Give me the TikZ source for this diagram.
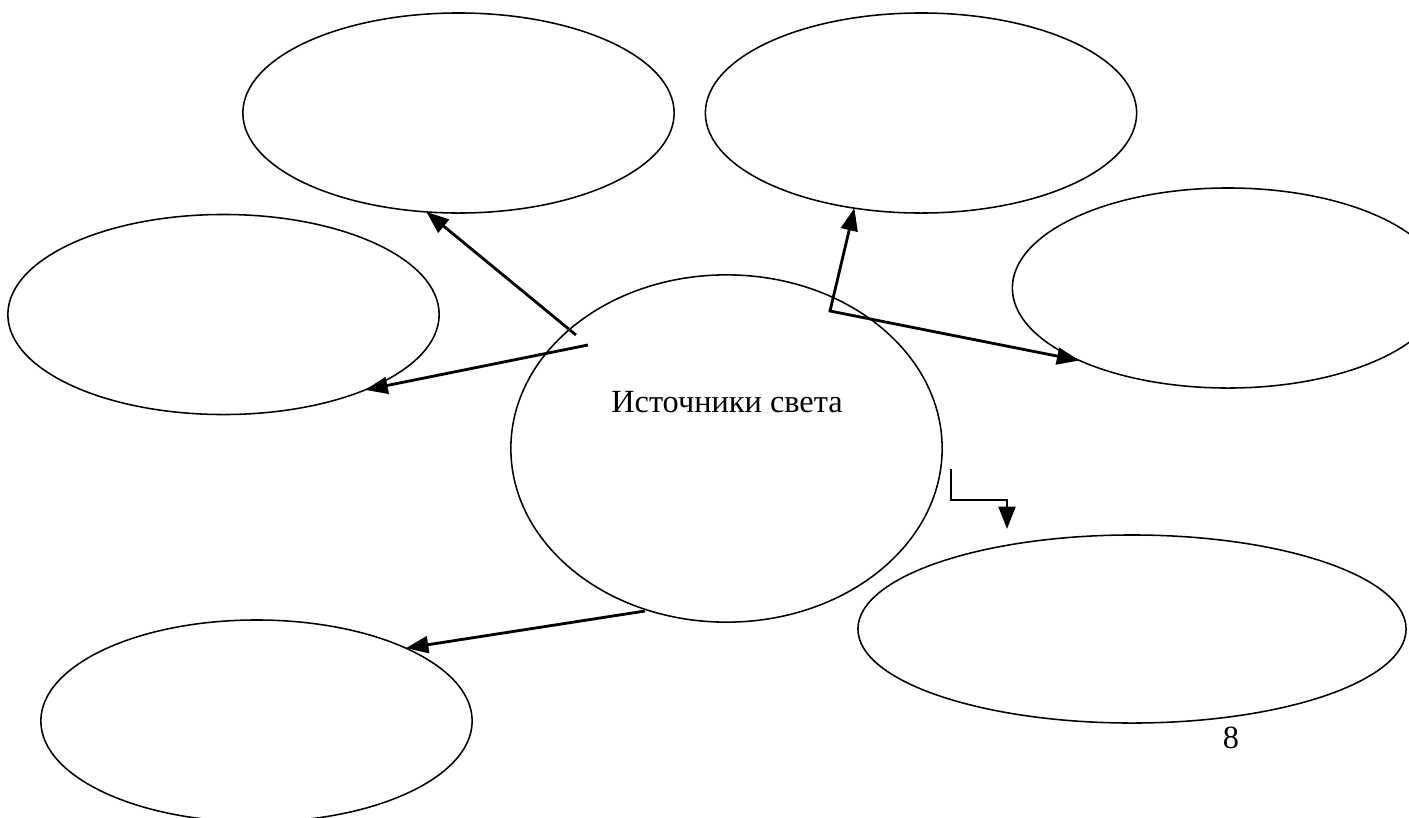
\documentclass[tikz,border=0pt]{standalone}
\usepackage{fontspec}
\setmainfont{Liberation Serif}
\usetikzlibrary{shapes.geometric,arrows.meta}

\begin{document}
\begin{tikzpicture}[x=0.025cm, y=-0.025cm,
    bubble/.style={ellipse, draw, line width=1.1pt, inner sep=0pt, outer sep=0pt,
                   minimum width=10.78cm, minimum height=5cm},
    feed/.style={line width=2pt, >={Triangle[length=16pt,width=12pt]}}]

    % Page frame (right and bottom bubbles run off the page)
    \useasboundingbox (0,0) rectangle (1409,817);

    % Outer bubbles
    \node[bubble] (upL)  at (458.5,113) {};     % top left
    \node[bubble] (upR)  at (921,113) {};       % top right
    \node[bubble] (midL) at (223.5,314.5) {};   % left
    \node[bubble] (midR) at (1228,288) {};      % right (cut)
    \node[bubble, minimum height=5.05cm] (lowL) at (256.5,721) {};  % bottom left (cut)
    \node[bubble, minimum width=13.7cm, minimum height=4.7cm] (lowR) at (1132,629) {};

    % Central bubble
    \node[bubble, minimum height=8.68cm] (src) at (726.5,448.5) {};
    \node[font=\fontsize{23}{27}\selectfont, anchor=base] (title) at (727,412) {Источники света};

    % Page number
    \node[font=\fontsize{23}{27}\selectfont, anchor=base] (pagenum) at (1231,748) {8};

    % Free ends of the arrows
    \coordinate (s1) at (576,335);
    \coordinate (s2) at (588,345);
    \coordinate (s3) at (830,311);  % corner
    \coordinate (s4) at (951,469);
    \coordinate (k4) at (1007,500);
    \coordinate (e4) at (1007,529);
    \coordinate (s5) at (645,611);

    % Arrows
    \draw[feed, ->] (s1) -- (upL.252);
    \draw[feed, ->] (s2) -- (midL.-28.6);
    \draw[feed, <->] (upR.235) -- (s3) -- (midR.206.6);
    \draw[feed, ->] (s4) |- (k4) -- (e4);
    \draw[feed, ->] (s5) -- (lowL.26.3);

\end{tikzpicture}
\end{document}
